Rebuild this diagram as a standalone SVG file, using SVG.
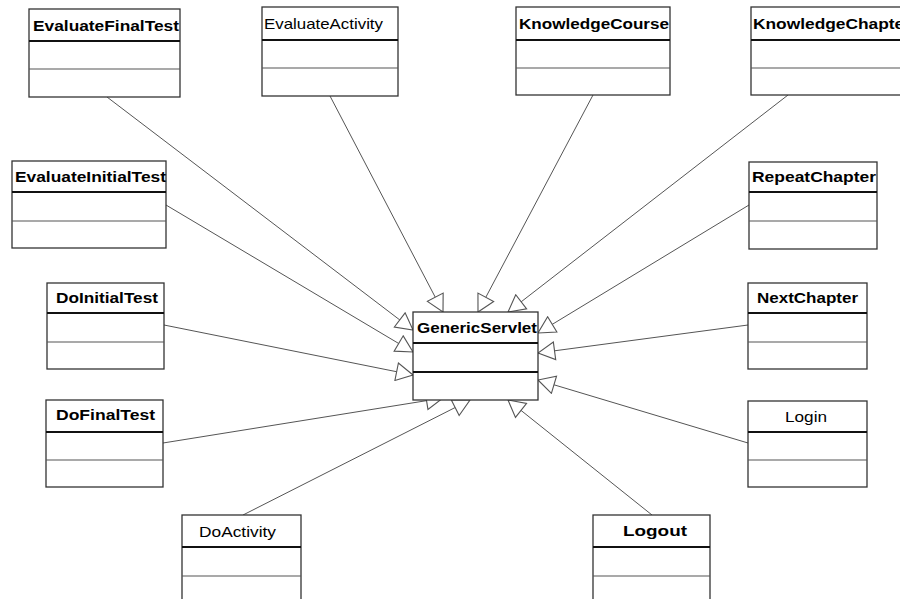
<svg xmlns="http://www.w3.org/2000/svg" width="900" height="599" viewBox="0 0 900 599">
<style>
.box{fill:#fff;stroke:#333;stroke-width:1.3}
.hd{stroke:#111;stroke-width:2}
.dv{stroke:#555;stroke-width:1.2}
.t{font-family:"Liberation Sans",Arial,sans-serif;font-size:15px;fill:#000}
.b{font-weight:bold}
.c{stroke:#555;stroke-width:1;fill:none;marker-end:url(#tri)}
</style>
<defs>
<marker id="tri" markerUnits="userSpaceOnUse" markerWidth="20" markerHeight="20" viewBox="-16 -9 18 18" refX="0" refY="0" orient="auto">
<path d="M0,0 L-15,-8 L-15,8 Z" fill="#fff" stroke="#555" stroke-width="1"/>
</marker>
</defs>
<rect width="900" height="599" fill="#fff"/>
<g id="connectors">
<line class="c" x1="107" y1="97" x2="413" y2="330"/>
<line class="c" x1="330" y1="96" x2="443" y2="312"/>
<line class="c" x1="593" y1="95" x2="478" y2="312"/>
<line class="c" x1="788" y1="95" x2="508" y2="312"/>
<line class="c" x1="166" y1="205" x2="413" y2="352"/>
<line class="c" x1="749" y1="205" x2="538" y2="333"/>
<line class="c" x1="164" y1="325" x2="413" y2="375"/>
<line class="c" x1="748" y1="325" x2="538" y2="353"/>
<line class="c" x1="163" y1="443" x2="443" y2="398"/>
<line class="c" x1="748" y1="443" x2="538" y2="380"/>
<line class="c" x1="243" y1="515" x2="470" y2="400"/>
<line class="c" x1="652" y1="515" x2="508" y2="400"/>
</g>
<g id="EvaluateFinalTest"><rect class="box" x="29" y="9" width="151" height="88"/><line class="hd" x1="29" y1="41" x2="180" y2="41"/><line class="dv" x1="29" y1="69" x2="180" y2="69"/><text class="t b" x="33" y="31" textLength="146" lengthAdjust="spacingAndGlyphs">EvaluateFinalTest</text></g>
<g id="EvaluateActivity"><rect class="box" x="262" y="7" width="136" height="89"/><line class="hd" x1="262" y1="40" x2="398" y2="40"/><line class="dv" x1="262" y1="68" x2="398" y2="68"/><text class="t" x="264" y="29" textLength="119" lengthAdjust="spacingAndGlyphs">EvaluateActivity</text></g>
<g id="KnowledgeCourse"><rect class="box" x="516" y="7" width="154" height="88"/><line class="hd" x1="516" y1="40" x2="670" y2="40"/><line class="dv" x1="516" y1="68" x2="670" y2="68"/><text class="t b" x="519" y="29" textLength="150" lengthAdjust="spacingAndGlyphs">KnowledgeCourse</text></g>
<g id="KnowledgeChapter"><rect class="box" x="751" y="7" width="162" height="88"/><line class="hd" x1="751" y1="40" x2="913" y2="40"/><line class="dv" x1="751" y1="68" x2="913" y2="68"/><text class="t b" x="753" y="29" textLength="158" lengthAdjust="spacingAndGlyphs">KnowledgeChapter</text></g>
<g id="EvaluateInitialTest"><rect class="box" x="12" y="161" width="154" height="87"/><line class="hd" x1="12" y1="192" x2="166" y2="192"/><line class="dv" x1="12" y1="221" x2="166" y2="221"/><text class="t b" x="15" y="182" textLength="151" lengthAdjust="spacingAndGlyphs">EvaluateInitialTest</text></g>
<g id="RepeatChapter"><rect class="box" x="749" y="162" width="128" height="87"/><line class="hd" x1="749" y1="192" x2="877" y2="192"/><line class="dv" x1="749" y1="221" x2="877" y2="221"/><text class="t b" x="752" y="182" textLength="124" lengthAdjust="spacingAndGlyphs">RepeatChapter</text></g>
<g id="DoInitialTest"><rect class="box" x="47" y="283" width="117" height="86"/><line class="hd" x1="47" y1="313" x2="164" y2="313"/><line class="dv" x1="47" y1="342" x2="164" y2="342"/><text class="t b" x="56" y="303" textLength="102" lengthAdjust="spacingAndGlyphs">DoInitialTest</text></g>
<g id="NextChapter"><rect class="box" x="748" y="283" width="119" height="86"/><line class="hd" x1="748" y1="313" x2="867" y2="313"/><line class="dv" x1="748" y1="342" x2="867" y2="342"/><text class="t b" x="757" y="303" textLength="101" lengthAdjust="spacingAndGlyphs">NextChapter</text></g>
<g id="DoFinalTest"><rect class="box" x="46" y="400" width="117" height="87"/><line class="hd" x1="46" y1="432" x2="163" y2="432"/><line class="dv" x1="46" y1="460" x2="163" y2="460"/><text class="t b" x="56" y="420" textLength="99" lengthAdjust="spacingAndGlyphs">DoFinalTest</text></g>
<g id="Login"><rect class="box" x="748" y="401" width="119" height="86"/><line class="hd" x1="748" y1="432" x2="867" y2="432"/><line class="dv" x1="748" y1="460" x2="867" y2="460"/><text class="t" x="785" y="422" textLength="42" lengthAdjust="spacingAndGlyphs">Login</text></g>
<g id="DoActivity"><rect class="box" x="182" y="515" width="119" height="100"/><line class="hd" x1="182" y1="547" x2="301" y2="547"/><line class="dv" x1="182" y1="576" x2="301" y2="576"/><text class="t" x="199" y="537" textLength="77" lengthAdjust="spacingAndGlyphs">DoActivity</text></g>
<g id="Logout"><rect class="box" x="593" y="515" width="117" height="100"/><line class="hd" x1="593" y1="547" x2="710" y2="547"/><line class="dv" x1="593" y1="576" x2="710" y2="576"/><text class="t b" x="623" y="536" textLength="64" lengthAdjust="spacingAndGlyphs">Logout</text></g>
<g id="GenericServlet"><rect class="box" x="413" y="312" width="125" height="88"/><line class="hd" x1="413" y1="343" x2="538" y2="343"/><line class="hd" x1="413" y1="372" x2="538" y2="372"/><text class="t b" x="417" y="333" textLength="120" lengthAdjust="spacingAndGlyphs">GenericServlet</text></g>
</svg>
